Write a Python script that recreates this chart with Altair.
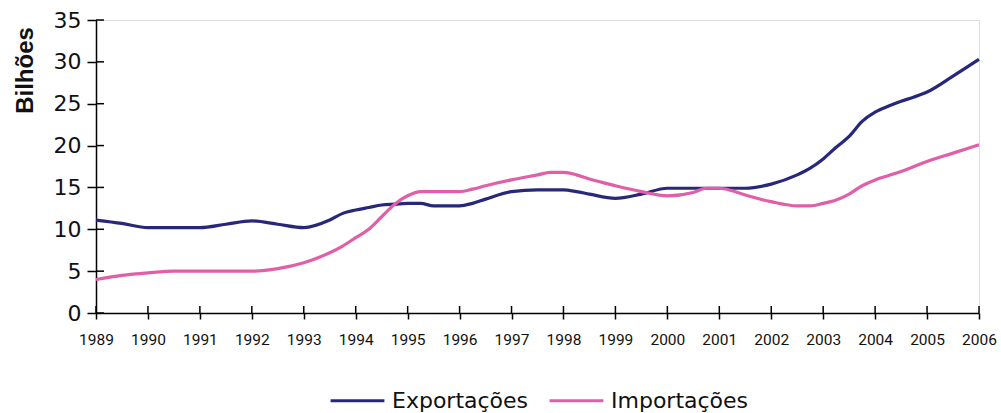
import altair as alt
import pandas as pd

# fractional years (half-years / quarters)
x_years = [1989, 1989.5, 1990, 1990.5, 1991, 1991.5, 1992, 1992.5, 1993,
           1993.5, 1993.75, 1994, 1994.25, 1994.5, 1994.75, 1995,
           1995.25, 1995.5, 1996, 1996.25, 1996.5, 1997,
           1997.5, 1997.75, 1998, 1998.25, 1998.5, 1999,
           1999.5, 2000, 2000.5, 2000.75, 2001,
           2001.25, 2001.5, 2002, 2002.5, 2002.75, 2003,
           2003.25, 2003.5, 2003.75, 2004,
           2004.25, 2004.5, 2004.75, 2005,
           2005.5, 2006]

exportacoes = [11.1, 10.7, 10.2, 10.2, 10.2, 10.6, 11.0, 10.6, 10.2,
               11.1, 11.9, 12.3, 12.6, 12.9, 13.0, 13.1,
               13.1, 12.8, 12.8, 13.1, 13.6, 14.5,
               14.7, 14.7, 14.7, 14.5, 14.2, 13.7,
               14.2, 14.9, 14.9, 14.9, 14.9,
               14.9, 14.9, 15.4, 16.5, 17.3, 18.4,
               19.8, 21.1, 22.9, 24.0,
               24.7, 25.3, 25.8, 26.4,
               28.3, 30.3]

importacoes = [4.0, 4.5, 4.8, 5.0, 5.0, 5.0, 5.0, 5.3, 6.0,
               7.2, 8.0, 9.0, 10.0, 11.5, 13.0, 14.0,
               14.5, 14.5, 14.5, 14.8, 15.2, 15.9,
               16.5, 16.8, 16.8, 16.5, 16.0, 15.2,
               14.5, 14.0, 14.4, 14.9, 14.9,
               14.6, 14.1, 13.3, 12.8, 12.8, 13.1,
               13.5, 14.2, 15.2, 15.9,
               16.4, 16.9, 17.5, 18.1,
               19.1, 20.1]

tick_years = list(range(1989, 2007))
y_ticks = [0, 5, 10, 15, 20, 25, 30, 35]
series_names = ["Exportações", "Importações"]
series_colors = ["#27287a", "#e05fa8"]

W, H = 883, 293

rows = []
for xv, e, i in zip(x_years, exportacoes, importacoes):
    rows.append({"x": xv, "v": e, "s": series_names[0]})
    rows.append({"x": xv, "v": i, "s": series_names[1]})
df = pd.DataFrame(rows)

xscale = alt.Scale(domain=[1989, 2006], nice=False, zero=False)
yscale = alt.Scale(domain=[0, 35], nice=False)

lines = alt.Chart(df).mark_line(strokeWidth=3.2, interpolate="monotone").encode(
    x=alt.X("x:Q", scale=xscale,
            axis=alt.Axis(values=tick_years, format="d", title=None, grid=False,
                          labelFont="Roboto", labelFontSize=15.5,
                          labelColor="#111111", labelFlush=False, labelOverlap=False,
                          labelPadding=13, tickSize=6, tickWidth=1.5, tickColor="black",
                          domainColor="black", domainWidth=1.5)),
    y=alt.Y("v:Q", scale=yscale,
            axis=alt.Axis(values=y_ticks, title="Bilhões", grid=False,
                          labelFont="DejaVu Sans", labelFontSize=22, labelColor="#111111",
                          labelPadding=6, tickSize=9, tickWidth=1.5, tickColor="black",
                          domainColor="black", domainWidth=1.5,
                          titleFont="Liberation Sans", titleFontSize=24, titleFontWeight="bold",
                          titleColor="#111111", titleAngle=270, titleAlign="center",
                          titleBaseline="alphabetic", titleX=-64, titleY=50)),
    color=alt.Color("s:N", scale=alt.Scale(domain=series_names, range=series_colors),
                    legend=alt.Legend(title=None, orient="none", direction="horizontal",
                                      legendX=233, legendY=352,
                                      symbolType="stroke", symbolSize=2900,
                                      symbolStrokeWidth=3, labelFont="DejaVu Sans",
                                      labelFontSize=22, labelColor="#111111",
                                      labelOffset=6, columnPadding=14)),
)

xt = alt.Chart(pd.DataFrame({"x": tick_years})).mark_rule(color="black", strokeWidth=1.5).encode(
    x=alt.X("x:Q", scale=xscale),
    y=alt.value(H - 7), y2=alt.value(H),
)

yt = alt.Chart(pd.DataFrame({"v": y_ticks})).mark_rule(color="black", strokeWidth=1.5).encode(
    y=alt.Y("v:Q", scale=yscale),
    x=alt.value(0), x2=alt.value(8),
)

chart = alt.layer(xt, yt, lines).properties(
    width=W, height=H,
    autosize=alt.AutoSizeParams(type="none"),
    padding={"left": 96, "top": 20, "right": 22, "bottom": 100},
).configure_view(stroke=None).configure(background="white")

chart.save("out.html", embed_options={"renderer": "svg", "actions": False})
